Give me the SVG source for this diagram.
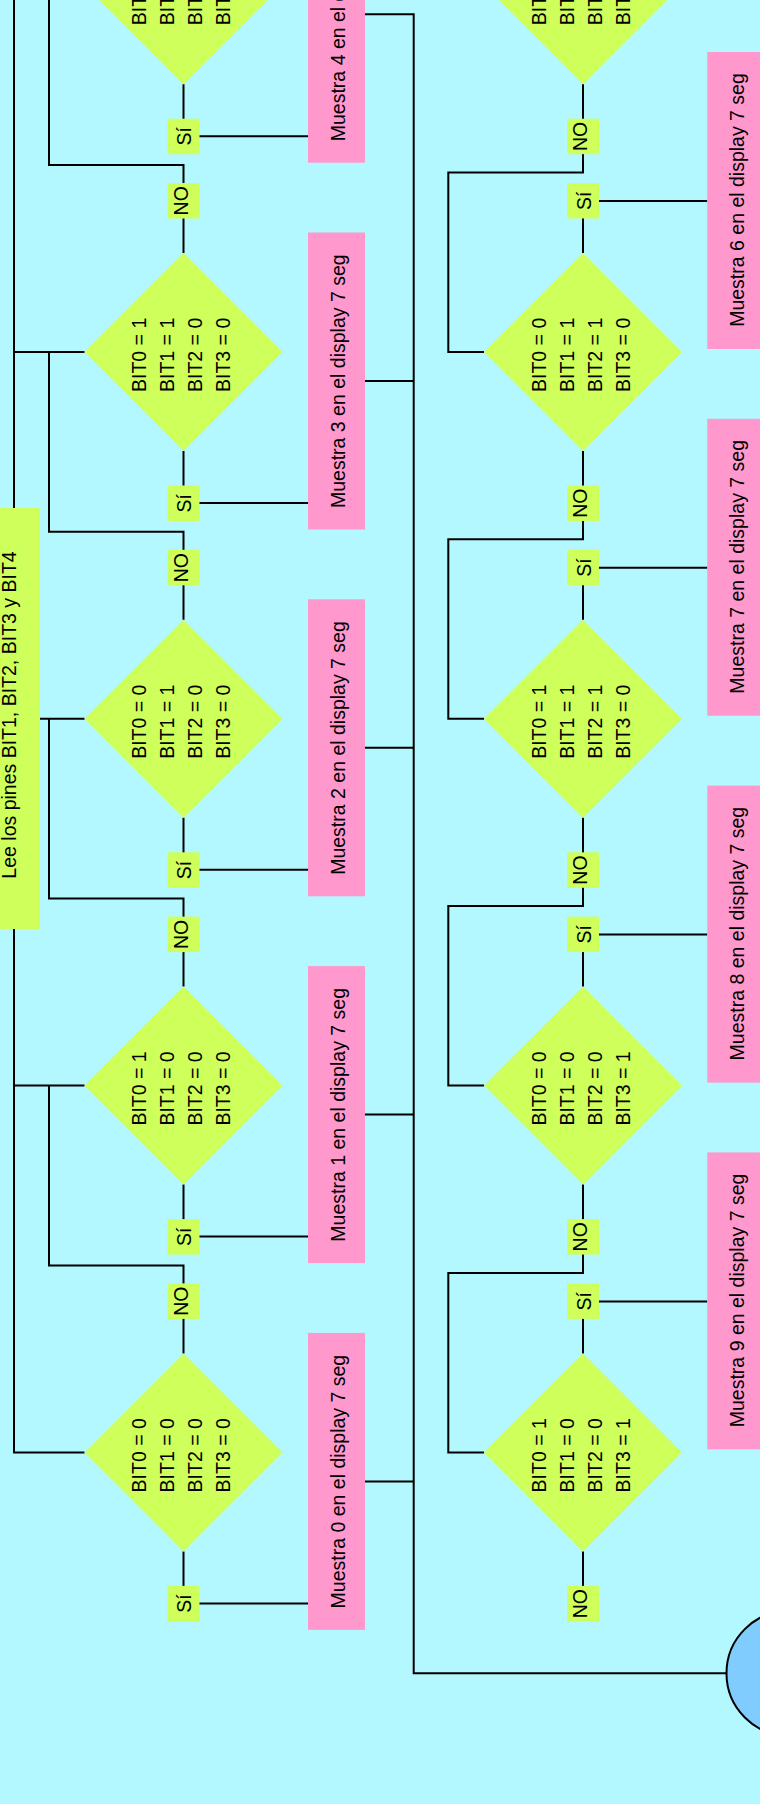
<svg xmlns="http://www.w3.org/2000/svg" width="760" height="1804" viewBox="0 0 760 1804">
<style>
.bg{fill:#B3F8FF}
.dec{fill:#CEFF5A}
.lbl{fill:#CEFF5A}
.proc{fill:#FF98CC}
.term{fill:#80CCFF;stroke:#000;stroke-width:2}
.t{font-family:"Liberation Sans",Arial,sans-serif;font-size:19.5px;fill:#000}
.m{text-anchor:middle}
.conn path{fill:none;stroke:#000;stroke-width:2}
</style>
<rect class="bg" x="0" y="0" width="760" height="1804"/>
<g id="connectors" class="conn">
<path d="M14,-10 V1452.4 H84.5"/>
<path d="M14,352 H84.5"/>
<path d="M14,1085.6 H84.5"/>
<path d="M40,718.8 H84.5"/>
<path d="M49,-14.8 V165 H183.5 V253"/>
<path d="M49,352 V531.8 H183.5 V619.8"/>
<path d="M49,718.8 V898.6 H183.5 V986.6"/>
<path d="M49,1085.6 V1265.4 H183.5 V1353.4"/>
<path d="M183.5,84.2 V136.2 H308"/>
<path d="M183.5,451 V503 H308"/>
<path d="M183.5,817.8 V869.8 H308"/>
<path d="M183.5,1184.6 V1236.6 H308"/>
<path d="M183.5,1551.4 V1603.4 H308"/>
<path d="M365,14.2 H413.7 V1673.3 H727"/>
<path d="M365,381 H413.7"/>
<path d="M365,747.8 H413.7"/>
<path d="M365,1114.6 H413.7"/>
<path d="M365,1481.4 H413.7"/>
<path d="M583,253 V201 H707.3"/>
<path d="M583,619.8 V567.8 H707.3"/>
<path d="M583,986.6 V934.6 H707.3"/>
<path d="M583,1353.4 V1301.4 H707.3"/>
<path d="M583,84.2 V172.5 H448.3 V352 H484"/>
<path d="M583,451 V539.3 H448.3 V718.8 H484"/>
<path d="M583,817.8 V906.1 H448.3 V1085.6 H484"/>
<path d="M583,1184.6 V1272.9 H448.3 V1452.4 H484"/>
<path d="M583,1551.4 V1586"/>
</g>
<g id="lee">
<rect class="dec" x="-25" y="508" width="65" height="421"/>
<text class="t m" transform="translate(15.7,715) rotate(-90)">Lee los pines BIT1, BIT2, BIT3 y BIT4</text>
</g>
<g id="fin">
<circle class="term" cx="789" cy="1673.3" r="62.5"/>
</g>
<g id="d4">
<polygon class="dec" points="183.5,-113.8 282.5,-14.8 183.5,84.2 84.5,-14.8"/>
<text class="t" transform="translate(145.5,25.2) rotate(-90)"><tspan x="0" y="0">BIT0 = 0</tspan><tspan x="0" dy="28.2">BIT1 = 0</tspan><tspan x="0" dy="28.2">BIT2 = 1</tspan><tspan x="0" dy="28.2">BIT3 = 0</tspan></text>
</g>
<g id="d3">
<polygon class="dec" points="183.5,253 282.5,352 183.5,451 84.5,352"/>
<text class="t" transform="translate(145.5,392) rotate(-90)"><tspan x="0" y="0">BIT0 = 1</tspan><tspan x="0" dy="28.2">BIT1 = 1</tspan><tspan x="0" dy="28.2">BIT2 = 0</tspan><tspan x="0" dy="28.2">BIT3 = 0</tspan></text>
</g>
<g id="d2">
<polygon class="dec" points="183.5,619.8 282.5,718.8 183.5,817.8 84.5,718.8"/>
<text class="t" transform="translate(145.5,758.8) rotate(-90)"><tspan x="0" y="0">BIT0 = 0</tspan><tspan x="0" dy="28.2">BIT1 = 1</tspan><tspan x="0" dy="28.2">BIT2 = 0</tspan><tspan x="0" dy="28.2">BIT3 = 0</tspan></text>
</g>
<g id="d1">
<polygon class="dec" points="183.5,986.6 282.5,1085.6 183.5,1184.6 84.5,1085.6"/>
<text class="t" transform="translate(145.5,1125.6) rotate(-90)"><tspan x="0" y="0">BIT0 = 1</tspan><tspan x="0" dy="28.2">BIT1 = 0</tspan><tspan x="0" dy="28.2">BIT2 = 0</tspan><tspan x="0" dy="28.2">BIT3 = 0</tspan></text>
</g>
<g id="d0">
<polygon class="dec" points="183.5,1353.4 282.5,1452.4 183.5,1551.4 84.5,1452.4"/>
<text class="t" transform="translate(145.5,1492.4) rotate(-90)"><tspan x="0" y="0">BIT0 = 0</tspan><tspan x="0" dy="28.2">BIT1 = 0</tspan><tspan x="0" dy="28.2">BIT2 = 0</tspan><tspan x="0" dy="28.2">BIT3 = 0</tspan></text>
</g>
<g id="d5">
<polygon class="dec" points="583,-113.8 682,-14.8 583,84.2 484,-14.8"/>
<text class="t" transform="translate(545.5,25.2) rotate(-90)"><tspan x="0" y="0">BIT0 = 1</tspan><tspan x="0" dy="28.2">BIT1 = 0</tspan><tspan x="0" dy="28.2">BIT2 = 1</tspan><tspan x="0" dy="28.2">BIT3 = 0</tspan></text>
</g>
<g id="d6">
<polygon class="dec" points="583,253 682,352 583,451 484,352"/>
<text class="t" transform="translate(545.5,392) rotate(-90)"><tspan x="0" y="0">BIT0 = 0</tspan><tspan x="0" dy="28.2">BIT1 = 1</tspan><tspan x="0" dy="28.2">BIT2 = 1</tspan><tspan x="0" dy="28.2">BIT3 = 0</tspan></text>
</g>
<g id="d7">
<polygon class="dec" points="583,619.8 682,718.8 583,817.8 484,718.8"/>
<text class="t" transform="translate(545.5,758.8) rotate(-90)"><tspan x="0" y="0">BIT0 = 1</tspan><tspan x="0" dy="28.2">BIT1 = 1</tspan><tspan x="0" dy="28.2">BIT2 = 1</tspan><tspan x="0" dy="28.2">BIT3 = 0</tspan></text>
</g>
<g id="d8">
<polygon class="dec" points="583,986.6 682,1085.6 583,1184.6 484,1085.6"/>
<text class="t" transform="translate(545.5,1125.6) rotate(-90)"><tspan x="0" y="0">BIT0 = 0</tspan><tspan x="0" dy="28.2">BIT1 = 0</tspan><tspan x="0" dy="28.2">BIT2 = 0</tspan><tspan x="0" dy="28.2">BIT3 = 1</tspan></text>
</g>
<g id="d9">
<polygon class="dec" points="583,1353.4 682,1452.4 583,1551.4 484,1452.4"/>
<text class="t" transform="translate(545.5,1492.4) rotate(-90)"><tspan x="0" y="0">BIT0 = 1</tspan><tspan x="0" dy="28.2">BIT1 = 0</tspan><tspan x="0" dy="28.2">BIT2 = 0</tspan><tspan x="0" dy="28.2">BIT3 = 1</tspan></text>
</g>
<g id="p4"><rect class="proc" x="308" y="-134.3" width="57" height="297"/><text class="t m" transform="translate(345,14.4) rotate(-90)">Muestra 4 en el display 7 seg</text></g>
<g id="p3"><rect class="proc" x="308" y="232.5" width="57" height="297"/><text class="t m" transform="translate(345,381.2) rotate(-90)">Muestra 3 en el display 7 seg</text></g>
<g id="p2"><rect class="proc" x="308" y="599.3" width="57" height="297"/><text class="t m" transform="translate(345,748) rotate(-90)">Muestra 2 en el display 7 seg</text></g>
<g id="p1"><rect class="proc" x="308" y="966.1" width="57" height="297"/><text class="t m" transform="translate(345,1114.8) rotate(-90)">Muestra 1 en el display 7 seg</text></g>
<g id="p0"><rect class="proc" x="308" y="1332.9" width="57" height="297"/><text class="t m" transform="translate(345,1481.6) rotate(-90)">Muestra 0 en el display 7 seg</text></g>
<g id="p6"><rect class="proc" x="707.3" y="52" width="60" height="297"/><text class="t m" transform="translate(744,200) rotate(-90)">Muestra 6 en el display 7 seg</text></g>
<g id="p7"><rect class="proc" x="707.3" y="418.8" width="60" height="297"/><text class="t m" transform="translate(744,566.8) rotate(-90)">Muestra 7 en el display 7 seg</text></g>
<g id="p8"><rect class="proc" x="707.3" y="785.6" width="60" height="297"/><text class="t m" transform="translate(744,933.6) rotate(-90)">Muestra 8 en el display 7 seg</text></g>
<g id="p9"><rect class="proc" x="707.3" y="1152.4" width="60" height="297"/><text class="t m" transform="translate(744,1300.4) rotate(-90)">Muestra 9 en el display 7 seg</text></g>
<g id="labels">
<g id="si4"><rect class="lbl" x="167.5" y="118.7" width="32" height="35.5"/><text class="t m" transform="translate(191,136.4) rotate(-90)">Sí</text></g>
<g id="si3"><rect class="lbl" x="167.5" y="485.5" width="32" height="35.5"/><text class="t m" transform="translate(191,503.2) rotate(-90)">Sí</text></g>
<g id="si2"><rect class="lbl" x="167.5" y="852.3" width="32" height="35.5"/><text class="t m" transform="translate(191,870) rotate(-90)">Sí</text></g>
<g id="si1"><rect class="lbl" x="167.5" y="1219.1" width="32" height="35.5"/><text class="t m" transform="translate(191,1236.8) rotate(-90)">Sí</text></g>
<g id="si0"><rect class="lbl" x="167.5" y="1585.9" width="32" height="35.5"/><text class="t m" transform="translate(191,1603.6) rotate(-90)">Sí</text></g>
<g id="no3"><rect class="lbl" x="167.5" y="183" width="32" height="35.5"/><text class="t m" transform="translate(188,200.8) rotate(-90)">NO</text></g>
<g id="no2"><rect class="lbl" x="167.5" y="549.8" width="32" height="35.5"/><text class="t m" transform="translate(188,567.6) rotate(-90)">NO</text></g>
<g id="no1"><rect class="lbl" x="167.5" y="916.6" width="32" height="35.5"/><text class="t m" transform="translate(188,934.4) rotate(-90)">NO</text></g>
<g id="no0"><rect class="lbl" x="167.5" y="1283.4" width="32" height="35.5"/><text class="t m" transform="translate(188,1301.2) rotate(-90)">NO</text></g>
<g id="no5"><rect class="lbl" x="567" y="118.7" width="32" height="35.5"/><text class="t m" transform="translate(587,136.4) rotate(-90)">NO</text></g>
<g id="si6"><rect class="lbl" x="567" y="183" width="32" height="35.5"/><text class="t m" transform="translate(590.5,200.8) rotate(-90)">Sí</text></g>
<g id="no6"><rect class="lbl" x="567" y="485.5" width="32" height="35.5"/><text class="t m" transform="translate(587,503.2) rotate(-90)">NO</text></g>
<g id="si7"><rect class="lbl" x="567" y="549.8" width="32" height="35.5"/><text class="t m" transform="translate(590.5,567.6) rotate(-90)">Sí</text></g>
<g id="no7"><rect class="lbl" x="567" y="852.3" width="32" height="35.5"/><text class="t m" transform="translate(587,870) rotate(-90)">NO</text></g>
<g id="si8"><rect class="lbl" x="567" y="916.6" width="32" height="35.5"/><text class="t m" transform="translate(590.5,934.4) rotate(-90)">Sí</text></g>
<g id="no8"><rect class="lbl" x="567" y="1219.1" width="32" height="35.5"/><text class="t m" transform="translate(587,1236.8) rotate(-90)">NO</text></g>
<g id="si9"><rect class="lbl" x="567" y="1283.4" width="32" height="35.5"/><text class="t m" transform="translate(590.5,1301.2) rotate(-90)">Sí</text></g>
<g id="no9"><rect class="lbl" x="567" y="1585.9" width="32" height="35.5"/><text class="t m" transform="translate(587,1603.6) rotate(-90)">NO</text></g>
</g>
</svg>
